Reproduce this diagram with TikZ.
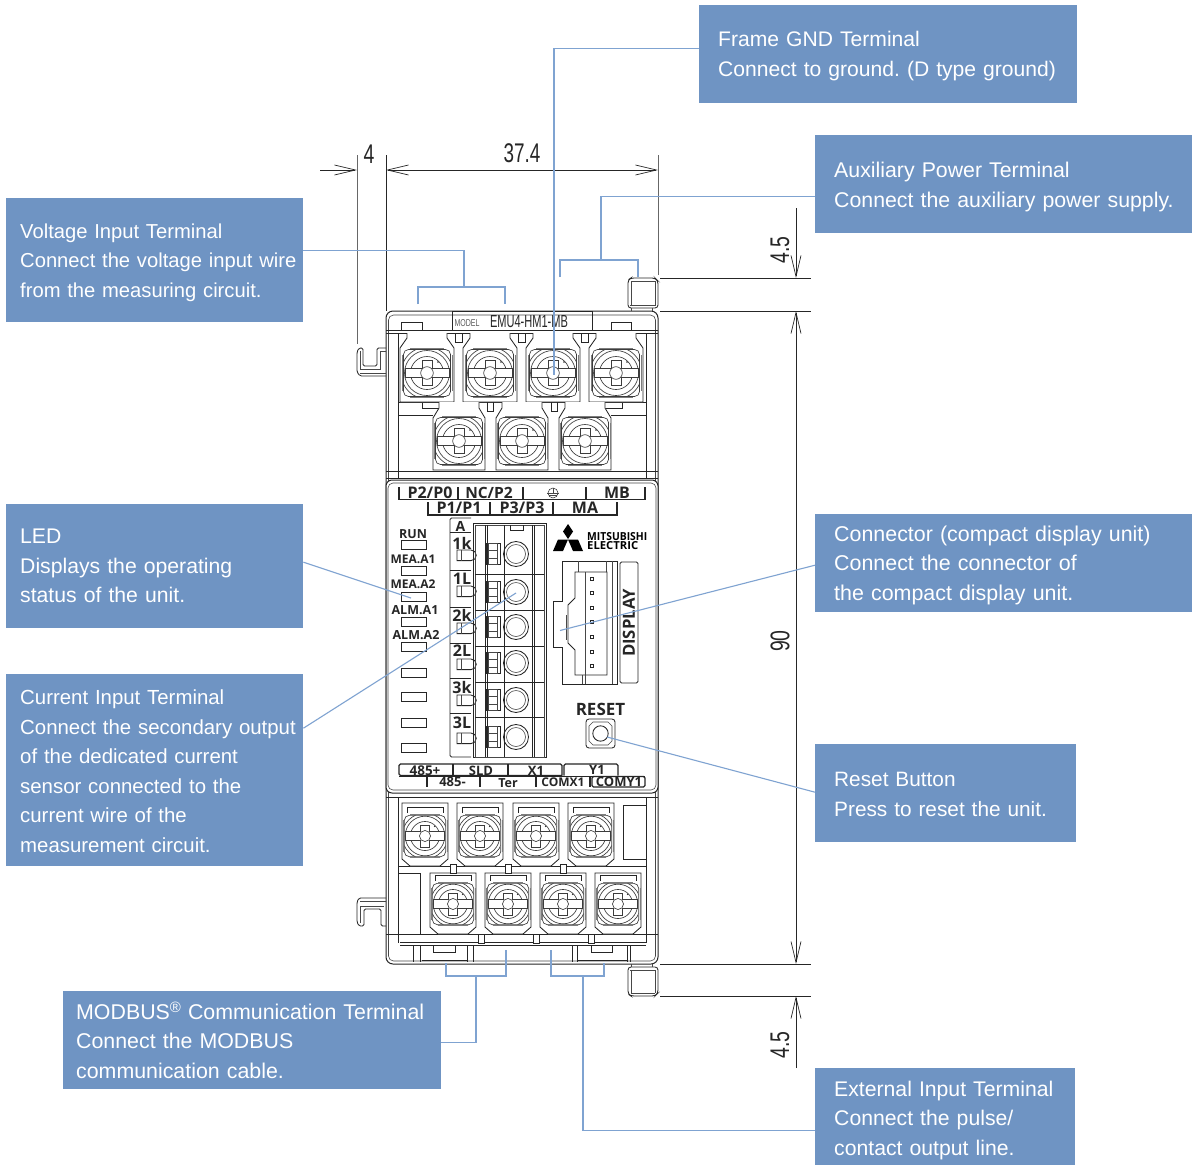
\documentclass[tikz,border=0pt]{standalone}
\usepackage{fontspec}
\setmainfont{Liberation Sans}
\newfontfamily\labf{Open Sans}
\usetikzlibrary{arrows.meta}
\definecolor{boxblue}{HTML}{6F94C3}
\definecolor{leadblue}{HTML}{7FA3D1}
\definecolor{ink}{HTML}{262626}
\newcommand\Ln[1]{\mbox{#1}}
\newcommand\Dn[1]{\rule{0pt}{\dimexpr15.3pt+#1pt+#1pt\relax}}
\newcommand\narrowtxt[3]{\resizebox{#1pt}{#2pt}{#3}}
\newcommand\bodyfont[1]{\frenchspacing\fontsize{#1}{29.6}\selectfont}
\tikzset{
 cbox/.style={rectangle,fill=boxblue,text=white,anchor=north west,inner ysep=0pt,align=left,font=\bodyfont{21}},
 lead/.style={draw=leadblue,line width=1.1pt},
 part/.style={draw=ink,line width=0.85pt},
 thin part/.style={draw=ink!85,line width=0.6pt},
 screwline/.style={draw=ink!90,line width=0.65pt},
 strip/.style={draw=ink,line width=1.1pt},
 dimen/.style={draw=ink,line width=0.8pt},
 barb/.style={-{Straight Barb[length=21pt,width=10pt,line width=0.7pt]}},
 barbs/.style={{Straight Barb[length=21pt,width=10pt,line width=0.7pt]}-{Straight Barb[length=21pt,width=10pt,line width=0.7pt]}},
 lab/.style={text=ink,inner sep=0pt,font=\labf\bfseries\fontsize{#1}{#1}\selectfont},
 lab/.default=12,
 dimtxt/.style={text=ink,inner sep=0pt,font=\fontsize{27}{27}\selectfont},
 screw/.pic={
  \draw[screwline,rounded corners=5pt,fill=white] (-23.5,-23.5) rectangle (23.5,23.5);
  \draw[ink!60,line width=1pt] (-17,-24.8) -- (17,-24.8);
  \draw[ink!60,line width=1pt] (-17,24.8) -- (17,24.8);
  \draw[ink!60,line width=1pt] (-25,-18) -- (-25,18);
  \draw[ink!60,line width=1pt] (25,-18) -- (25,18);
  \begin{scope}
   \clip[rounded corners=5pt] (-23.5,-23.5) rectangle (23.5,23.5);
   \draw[screwline] (0,0) circle (26);
   \draw[screwline] (0,0) circle (22.5);
   \draw[screwline] (0,0) circle (16.5);
  \end{scope}
  \draw[screwline,fill=white] (-22,-4.8) -- (-5,-4.8) -- (-5,-12.5) -- (5,-12.5) -- (5,-4.8) -- (22,-4.8) -- (22,4.8) -- (5,4.8) -- (5,12.5) -- (-5,12.5) -- (-5,4.8) -- (-22,4.8) -- cycle;
  \draw[screwline,fill=white] (0,0) circle (6.3);
  \fill[ink] (11,-11) circle (0.9);
 }
}
\begin{document}
\begin{tikzpicture}[x=1pt,y=-1pt]
\useasboundingbox[fill=white] (0,0) rectangle (1192,1165);

% --- unit body ---
\draw[part,rounded corners=7pt,line width=1pt] (386,311) rectangle (658,964);
\draw[thin part,rounded corners=5pt] (388.5,315) rectangle (655.5,961);
\draw[part] (452,311) rectangle (592,330);
\draw[part] (386,330) -- (658,330);
\draw[part] (386,333) -- (658,333);
\draw[part] (398,333) -- (398,479);
\draw[part] (646,333) -- (646,479);
\draw[part] (398,402) -- (646,402);
\draw[part] (398,415) -- (433,415);
\draw[part] (611,415) -- (646,415);
\draw[part] (422,402) -- (422,408) -- (439,408);
\draw[part] (622,402) -- (622,408) -- (606,408);
\draw[part] (386,471) -- (658,471);
\draw[part] (386,478) -- (658,478);
\draw[part] (401,330) -- (401,322) -- (422,322) -- (422,330);
\draw[part] (611,330) -- (611,322) -- (631,322) -- (631,330);

% top row housings
\foreach \c in {427,490,553,616}{
 \draw[part,fill=white] (\c-20,333) -- (\c-20,338) -- (\c-27,348) -- (\c-27,402) -- (\c+27,402) -- (\c+27,348) -- (\c+20,338) -- (\c+20,333);
 \pic at (\c,373) {screw};
}
\foreach \c in {459,522,585}{
 \draw[part,fill=white] (\c-20,402) -- (\c-20,408) -- (\c-26,418) -- (\c-26,470) -- (\c+26,470) -- (\c+26,418) -- (\c+20,408) -- (\c+20,402);
 \pic at (\c,441) {screw};
}
\foreach \c in {458.5,521.5,585}{\draw[part] (\c-3.5,333) -- (\c-3.5,342) -- (\c+3.5,342) -- (\c+3.5,333);}
\foreach \c in {490,554}{\draw[part] (\c-3,402) -- (\c-3,411) -- (\c+3,411) -- (\c+3,402);}

% bottom section
\draw[part] (386,797) -- (658,797);
\draw[part] (398,797) -- (398,943);
\draw[part] (646,797) -- (646,943);
\draw[part] (398,866) -- (646,866);
\draw[part] (398,873) rectangle (420,934);
\draw[part] (623,805) rectangle (646,859);
\draw[part] (386,934) -- (658,934);
\draw[part] (400,942) -- (646,942);
\draw[part] (400,945) -- (646,945);
\foreach \c in {413,420,467,473,572,577,627,630}{\draw[part] (\c,945) -- (\c,962);}
\draw[part] (422,960) -- (467,960);
\draw[part] (577,960) -- (627,960);
\draw[part] (433,945) rectangle (455,952);
\draw[part] (591,945) rectangle (612,952);
\foreach \c in {425,480,536,591}{
 \draw[part,fill=white] (\c-23,803) -- (\c+23,803) -- (\c+23,859) -- (\c+15,866) -- (\c-15,866) -- (\c-23,859) -- cycle;
 \draw[part] (\c-18,813) -- (\c-18,807) -- (\c+18,807) -- (\c+18,813);
 \pic[scale=0.88] at (\c,836) {screw};
}
\foreach \c in {453,508,563,618}{
 \draw[part,fill=white] (\c-23,873) -- (\c+23,873) -- (\c+23,927) -- (\c+15,934) -- (\c-15,934) -- (\c-23,927) -- cycle;
 \draw[part] (\c-18,881) -- (\c-18,875) -- (\c+18,875) -- (\c+18,881);
 \pic[scale=0.88] at (\c,904) {screw};
}
\foreach \c in {453,508,563}{\draw[part,fill=white] (\c-3,864) rectangle (\c+3,873);}
\foreach \c in {481,536,591}{\draw[part,fill=white] (\c-3,934) rectangle (\c+3,943);}

% clips and tabs
\draw[part,rounded corners=1.5pt] (386,348) -- (377,348) -- (377,366) -- (363,366) -- (363,348) -- (359,348) -- (357,352) -- (357,372) -- (360,376) -- (386,376);
\draw[thin part] (360,351) -- (360,369) -- (380,369) -- (380,351) -- (386,351);
\draw[thin part] (360,373) -- (386,373);
\draw[part,rounded corners=1.5pt] (386,898) -- (359,898) -- (357,902) -- (357,922) -- (359,926) -- (364,926) -- (364,909) -- (381,909) -- (381,926) -- (386,926);
\draw[thin part] (360,923) -- (360,906) -- (384,906);
\draw[thin part] (360,901) -- (386,901);
\draw[part,fill=white,rounded corners=3pt] (628,308) -- (628,280) -- (631,278) -- (655,278) -- (658,281) -- (658,308) -- cycle;
\draw[thin part] (630,305) -- (656,305);
\draw[thin part] (631,281) -- (631,305);
\draw[thin part] (655,281) -- (655,305);
\draw[thin part] (631,281) -- (655,281);
\draw[thin part] (631,308) -- (631,311);
\draw[thin part] (652,308) -- (652,311);
\draw[part,fill=white,rounded corners=3pt] (628,967) -- (628,994) -- (631,996) -- (655,996) -- (658,993) -- (658,967) -- cycle;
\draw[thin part] (630,970) -- (656,970);
\draw[thin part] (631,970) -- (631,993);
\draw[thin part] (655,970) -- (655,993);
\draw[thin part] (631,993) -- (655,993);
\draw[thin part] (631,964) -- (631,967);
\draw[thin part] (652,964) -- (652,967);

\node[text=ink!75,inner sep=0pt] (modellab) at (467,323.5) {\narrowtxt{25}{7}{MODEL}};
\node[text=ink,inner sep=0pt] (modelname) at (529,321.5) {\narrowtxt{78}{12}{EMU4-HM1-MB}};

% --- centre panel ---
\draw[part,fill=white,rounded corners=6pt,line width=1pt] (386,480) rectangle (658,793);
\draw[thin part,rounded corners=5pt] (388,483) rectangle (656,790);
% label strips
\draw[strip] (399,487) -- (399,499.5) -- (645,499.5) -- (645,487);
\foreach \c in {458,523,586}{\draw[strip] (\c,487) -- (\c,499.5);}
\draw[strip] (428,502) -- (428,515) -- (617,515) -- (617,502);
\foreach \c in {490,553}{\draw[strip] (\c,502) -- (\c,515);}
\node[lab=16] (tp2) at (430,493) {P2/P0};
\node[lab=15.5] (tnc) at (489,493) {NC/P2};
\node[lab=16] (tmb) at (617,493) {MB};
\node[lab=16] (tp1) at (459,508) {P1/P1};
\node[lab=16] (tp3) at (522,508) {P3/P3};
\node[lab=16] (tma) at (585,508) {MA};
\node[draw=ink,circle,inner sep=0pt,minimum size=10pt,line width=0.5pt] (gnd) at (553,493) {};
\draw[thin part] (547,493) -- (559,493);
\draw[thin part] (549,495.5) -- (557,495.5);
\draw[thin part] (553,488) -- (553,493);

% LEDs
\foreach \y in {540,566,592,617,642,668,692,718,743}{\draw[part] (401,\y) rectangle (426,\y+9.5);}
\node[lab=12.5] (run) at (413,534) {RUN};
\node[lab=12] (mea1) at (413,559) {MEA.A1};
\node[lab=12] (mea2) at (413,584) {MEA.A2};
\node[lab=12.5] (alm1) at (415,610) {ALM.A1};
\node[lab=12.5] (alm2) at (416,635) {ALM.A2};

% current terminal block
\draw[part,rounded corners=1.5pt] (471,518) -- (450,518) -- (450,757) -- (471,757);
\draw[part] (450,532) -- (471,532);
\foreach \y in {570,607,643,678,713}{\draw[part] (450,\y) -- (471,\y);}
\node[lab=14] (ca) at (460.5,526) {A};
\node[lab=16] (c1k) at (462,543) {1k};
\node[lab=16] (c1l) at (462,579) {1L};
\node[lab=16] (c2k) at (462,615) {2k};
\node[lab=16] (c2l) at (462,651) {2L};
\node[lab=16] (c3k) at (462,687) {3k};
\node[lab=16] (c3l) at (462,723) {3L};
\foreach \y in {555,591,628,664,700,738}{
 \draw[part,fill=white] (457,\y-5) -- (471,\y-5) arc[start angle=-90,end angle=90,radius=5.3] -- (457,\y+5.6) -- cycle;
 \draw[thin part] (461,\y-5) -- (461,\y+5.6);
}
\draw[part] (473,523) rectangle (546,757);
\draw[thin part] (475,525.5) rectangle (544,757);
\foreach \c in {485,487,504,532,534}{\draw[part] (\c,525) -- (\c,757);}
\foreach \y in {574,610,646,682,717}{\draw[part] (475,\y) -- (544,\y);}
\draw[part] (510,525) -- (510,530) -- (523,530) -- (523,525);
\foreach \y in {554,592,627,663,700,737}{
 \draw[part] (486,\y-11) rectangle (500,\y+10);
 \draw[thin part] (488.5,\y-11) rectangle (497.5,\y+10);
 \draw[thin part] (488.5,\y-4) -- (497.5,\y-4);
 \draw[thin part] (488.5,\y+4) -- (497.5,\y+4);
 \draw[part] (516,\y) circle (12.5);
 \draw[thin part] (516,\y) circle (9.5);
}

% logo
\fill[black] (568,524) -- (573,531.5) -- (568,539) -- (563,531.5) -- cycle;
\fill[black] (568,539.5) -- (573,551) -- (583,551) -- (578,539.5) -- cycle;
\fill[black] (568,539.5) -- (563,551) -- (553,551) -- (558,539.5) -- cycle;
\node[text=black,inner sep=0pt,anchor=west] (logo1) at (587,536.5) {\narrowtxt{60}{8}{\labf\bfseries MITSUBISHI}};
\node[text=black,inner sep=0pt,anchor=west] (logo2) at (587,546) {\narrowtxt{51}{8}{\labf\bfseries ELECTRIC}};

% display connector
\draw[part] (562,561) -- (617,561) -- (617,684) -- (562,684) -- (562,647) -- (553,647) -- (553,601) -- (562,601) -- cycle;
\draw[thin part] (612,561) -- (612,684);
\draw[thin part] (606,561) -- (606,572);
\draw[thin part] (578,561) -- (578,572);
\draw[part] (575,572) -- (607,572) -- (607,675) -- (575,675) -- (575,650) -- (568,643) -- (568,605) -- (575,598) -- cycle;
\draw[thin part] (585,572) -- (585,675);
\draw[thin part] (582,675) -- (582,684);
\draw[thin part] (585,675) -- (585,684);
\draw[thin part] (566,615) -- (566,640);
\foreach \y in {579,593,608,622,637,652,666}{\draw[part] (590,\y-1.7) rectangle (593.4,\y+1.7);}
\draw[part,rounded corners=1.5pt] (620,562) rectangle (638,683);
\node[lab=16.7,rotate=90] (disp) at (629,623) {DISPLAY};

% reset
\node[lab=17] (rst) at (600.5,709) {RESET};
\draw[part,rounded corners=3pt] (586,719) rectangle (615,748);
\draw[thin part] (589,726) -- (593,722) -- (608,722) -- (612,726) -- (612,741) -- (608,745) -- (593,745) -- (589,741) -- cycle;
\draw[part] (600.5,733.5) circle (7.7);

% lower strips
\draw[strip,rounded corners=1.5pt] (562,775.5) -- (399,775.5) -- (399,764) -- (562,764) -- (562,775.5);
\foreach \c in {453,508}{\draw[strip] (\c,764) -- (\c,775.5);}
\draw[strip,rounded corners=1.5pt] (564,775.5) -- (564,764) -- (618,764) -- (618,775.5);
\draw[strip] (427,776.5) -- (427,787);
\foreach \c in {480,536,590}{\draw[strip] (\c,776.5) -- (\c,787);}
\draw[strip] (399,776.5) -- (645,776.5);
\draw[strip,rounded corners=1.5pt] (592,776.5) rectangle (645,787);
\node[lab=13.5] (b1) at (425,770.5) {485+};
\node[lab=13] (b2) at (481,770.5) {SLD};
\node[lab=13] (b3) at (536,770.5) {X1};
\node[lab=13] (b4) at (597,769.5) {Y1};
\node[lab=13] (b5) at (452.5,782) {485-};
\node[lab=12.5] (b6) at (508,783) {Ter};
\node[lab=12] (b7) at (563,782) {COMX1};
\node[lab=13] (b8) at (619,782) {COMY1};

% --- dimensions ---
\coordinate (d1) at (357,155); \coordinate (d1b) at (357,344);
\coordinate (d2) at (386,155); \coordinate (d2b) at (386,311);
\coordinate (d3) at (658,155); \coordinate (d3b) at (658,275);
\draw[dimen,draw=ink!70] (d1) -- (d1b);
\draw[dimen] (d2) -- (d2b);
\draw[dimen,draw=ink!70] (d3) -- (d3b);
\coordinate (h0) at (320,170);
\coordinate (h1) at (357,170);
\coordinate (h2) at (386,170);
\coordinate (h3) at (658,170);
\draw[dimen,barb] (h0) -- (h1);
\draw[dimen,barbs] (h2) -- (h3);
\node[dimtxt] (t4) at (369,154) {\scalebox{0.72}[1]{4}};
\node[dimtxt] (t374) at (522,153.5) {\scalebox{0.70}[1]{37.4}};
\foreach \n/\y in {e1/278,e2/311,e3/964,e4/996}{
 \coordinate (\n a) at (660,\y);
 \coordinate (\n b) at (811,\y);
 \coordinate (\n m) at (796,\y);
 \draw[dimen] (\n a) -- (\n b);
}
\coordinate (v0) at (796,208);
\coordinate (v1) at (796,1068);
\draw[dimen,barb] (v0) -- (e1m);
\draw[dimen,barbs] (e2m) -- (e3m);
\draw[dimen,barb] (v1) -- (e4m);
\node[dimtxt,rotate=90] (t45a) at (780,250) {\scalebox{0.72}[1]{4.5}};
\node[dimtxt,rotate=90] (t90) at (780,641) {\scalebox{0.72}[1]{90}};
\node[dimtxt,rotate=90] (t45b) at (780,1045) {\scalebox{0.72}[1]{4.5}};

% --- callout boxes ---
\node[cbox,font=\bodyfont{21.1},inner xsep=19pt,text width=340pt,minimum height=98pt] (frame) at (699,5) {\Ln{\Dn{2}Frame GND Terminal}\\\Ln{Connect to ground. (D type ground)}};
\node[cbox,font=\bodyfont{21.3},inner xsep=19pt,text width=339pt,minimum height=98pt] (aux) at (815,135) {\Ln{\Dn{3}Auxiliary Power Terminal}\\\Ln{Connect the auxiliary power supply.}};
\node[cbox,font=\bodyfont{20.2},inner xsep=14pt,text width=269pt,minimum height=124pt] (volt) at (6,198) {\Ln{\Dn{2}Voltage Input Terminal}\\\Ln{Connect the voltage input wire}\\\Ln{from the measuring circuit.}};
\node[cbox,font=\bodyfont{21.2},inner xsep=14pt,text width=269pt,minimum height=124pt] (led) at (6,504) {\Ln{LED}\\\Ln{Displays the operating}\\\Ln{status of the unit.}};
\node[cbox,font=\bodyfont{20.4},inner xsep=14pt,text width=269pt,minimum height=192pt] (curr) at (6,674) {\Ln{\Dn{0.7}Current Input Terminal}\\\Ln{Connect the secondary output}\\\Ln{of the dedicated current}\\\Ln{sensor connected to the}\\\Ln{current wire of the}\\\Ln{measurement circuit.}};
\node[cbox,font=\bodyfont{21.4},inner xsep=19pt,text width=339pt,minimum height=98pt] (conn) at (815,514) {\Ln{\Dn{2}Connector (compact display unit)}\\\Ln{Connect the connector of}\\\Ln{the compact display unit.}};
\node[cbox,font=\bodyfont{20.8},inner xsep=19pt,text width=223pt,minimum height=98pt] (reset) at (815,744) {\Ln{\Dn{0.5}Reset Button}\\\Ln{Press to reset the unit.}};
\node[cbox,font=\bodyfont{21.35},inner xsep=13pt,text width=352pt,minimum height=98pt] (modbus) at (63,991) {\Ln{\Dn{1}MODBUS\raisebox{7pt}{\fontsize{15}{15}\selectfont ®} Communication Terminal}\\\Ln{Connect the MODBUS}\\\Ln{communication cable.}};
\node[cbox,font=\bodyfont{21.2},inner xsep=19pt,text width=222pt,minimum height=97pt] (ext) at (815,1068) {\Ln{\Dn{3.5}External Input Terminal}\\\Ln{Connect the pulse/}\\\Ln{contact output line.}};

% --- leaders ---
\coordinate (frameT) at (554,375);
\draw[lead] ([yshift=6pt]frame.west) -| (frameT);
\coordinate (auxL) at (560,277); \coordinate (auxM) at (601,260); \coordinate (auxR) at (638,277);
\draw[lead] ([yshift=-12pt]aux.west) -| (auxM);
\draw[lead] (auxL) |- (auxM) -| (auxR);
\coordinate (voltL) at (418,304); \coordinate (voltM) at (464,287); \coordinate (voltR) at (505,304);
\draw[lead] ([yshift=10pt]volt.east) -| (voltM);
\draw[lead] (voltL) |- (voltM) -| (voltR);
\coordinate (ledT) at (411,598);
\draw[lead] ([yshift=4pt]led.east) -- (ledT);
\coordinate (currT) at (516,593);
\draw[lead] ([yshift=42pt]curr.east) -- (currT);
\coordinate (connT) at (560,630.5);
\draw[lead] ([yshift=-2pt]conn.west) -- (connT);
\coordinate (resetT) at (607,737);
\draw[lead] ([yshift=1pt]reset.west) -- (resetT);
\coordinate (modL) at (446,963); \coordinate (modM) at (476,976); \coordinate (modR) at (506,950);
\draw[lead] ([yshift=-2pt]modbus.east) -| (modM);
\draw[lead] (modL) |- (modM) -| (modR);
\coordinate (extL) at (551,950); \coordinate (extM) at (583,976); \coordinate (extR) at (604,963);
\draw[lead] ([yshift=-13.5pt]ext.west) -| (extM);
\draw[lead] (extL) |- (extM) -| (extR);
\end{tikzpicture}
\end{document}
